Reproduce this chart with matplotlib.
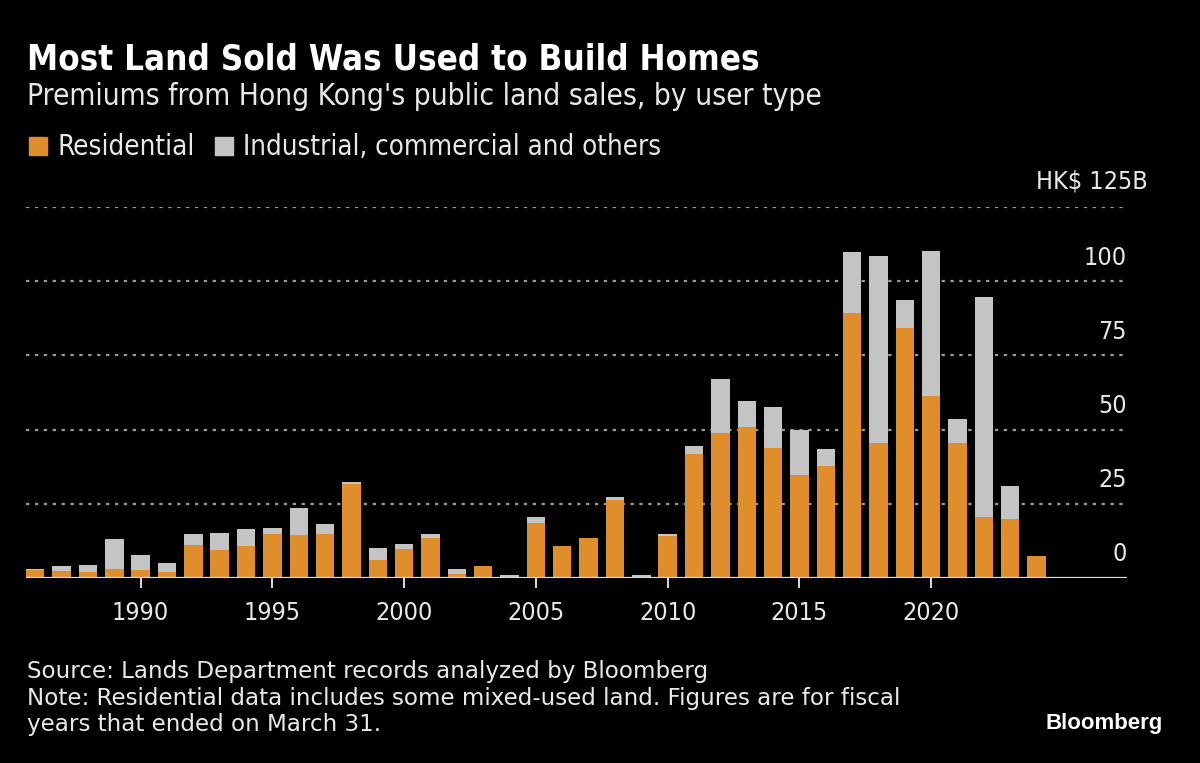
import numpy as np
import matplotlib.pyplot as plt
from matplotlib.patches import Rectangle

# Data (HK$ billions, fiscal years)
years = list(range(1986, 2025))
residential = [2.6, 2.4, 1.8, 2.8, 2.7, 2.0, 11.2, 9.3, 10.8, 14.8,
               14.3, 14.8, 31.5, 6.0, 9.6, 13.3, 1.4, 3.9, 0.1, 18.3,
               10.8, 13.4, 26.2, 0.1, 14.2, 41.7, 48.7, 50.9, 43.9, 34.6,
               37.8, 89.4, 45.5, 84.1, 61.4, 45.5, 20.5, 19.7, 7.4]
other = [0.3, 1.4, 2.6, 10.1, 5.1, 2.8, 3.4, 5.8, 5.7, 2.0,
         9.2, 3.3, 0.8, 4.1, 1.8, 1.4, 1.4, 0.0, 0.8, 2.2,
         0.0, 0.0, 1.2, 0.8, 0.4, 2.6, 18.3, 8.9, 13.7, 15.2,
         5.6, 20.4, 62.9, 9.5, 48.9, 8.1, 74.1, 11.3, 0.0]
ytick_vals = [0, 25, 50, 75, 100]
xtick_vals = [1990, 1995, 2000, 2005, 2010, 2015, 2020]

ORANGE = '#E08E2B'
GRAY = '#C4C4C4'
TXT = '#E8E8E8'

plt.rcParams['font.family'] = ['DejaVu Sans']
plt.rcParams['font.stretch'] = 'condensed'

fig = plt.figure(figsize=(12, 7.63), dpi=100, facecolor='black')
ax = fig.add_axes([26 / 1200, 1 - 577.7 / 763, (1127 - 26) / 1200, (577.7 - 207.3) / 763])
ax.set_facecolor('black')

ax.bar(years, residential, width=0.7, color=ORANGE, zorder=3)
ax.bar(years, other, bottom=residential, width=0.7, color=GRAY, zorder=3)

ax.set_xlim(1985.65, 2027.43)
ax.set_ylim(0, 125)

for v in ytick_vals[1:] + [125]:
    ax.axhline(v, color='#9a9a9a', lw=1.6, ls=(0, (1.5, 2.5)), zorder=1)
ax.axhline(0, color='#dddddd', lw=1.6, zorder=4)

for v in ytick_vals:
    ax.annotate(str(v), xy=(1, v), xycoords=('axes fraction', 'data'),
                xytext=(0, 12), textcoords='offset points',
                ha='right', va='baseline', color=TXT, fontsize=18)
ax.annotate('HK$ 125B', xy=(1, 125), xycoords=('axes fraction', 'data'),
            xytext=(15, 13.5), textcoords='offset points',
            ha='right', va='baseline', color=TXT, fontsize=18)

for s in ax.spines.values():
    s.set_visible(False)
ax.set_yticks([])
ax.set_xticks(xtick_vals)
ax.set_xticklabels([str(x) for x in xtick_vals])
ax.tick_params(axis='x', colors='#dddddd', length=7, width=1.4, pad=10,
               labelsize=18, labelcolor=TXT)

fig.text(27 / 1200, 1 - 70 / 763, 'Most Land Sold Was Used to Build Homes',
         color='white', fontsize=25, fontweight='bold', va='baseline')
fig.text(27 / 1200, 1 - 105 / 763, "Premiums from Hong Kong's public land sales, by user type",
         color=TXT, fontsize=21.4, va='baseline')

# legend
fig.patches.append(Rectangle((29 / 1200, 1 - 155 / 763), 18 / 1200, 18 / 763,
                             transform=fig.transFigure, color=ORANGE))
fig.text(57 / 1200, 1 - 155 / 763, 'Residential', color=TXT, fontsize=19.9, va='baseline')
fig.patches.append(Rectangle((215 / 1200, 1 - 155 / 763), 18 / 1200, 18 / 763,
                             transform=fig.transFigure, color=GRAY))
fig.text(243 / 1200, 1 - 155 / 763, 'Industrial, commercial and others',
         color=TXT, fontsize=19.8, va='baseline')

foot = dict(color=TXT, fontsize=16.6, va='baseline', fontstretch='normal')
fig.text(27 / 1200, 1 - 678 / 763, 'Source: Lands Department records analyzed by Bloomberg', **foot)
fig.text(27 / 1200, 1 - 705 / 763,
         'Note: Residential data includes some mixed-used land. Figures are for fiscal', **foot)
fig.text(27 / 1200, 1 - 731.5 / 763, 'years that ended on March 31.', **foot)
fig.text(1163 / 1200, 1 - 729 / 763, 'Bloomberg', color='white', fontsize=16,
         fontweight='bold', ha='right', va='baseline', family=['Liberation Sans', 'DejaVu Sans'])

fig.savefig('out.png', dpi=100, facecolor='black')
